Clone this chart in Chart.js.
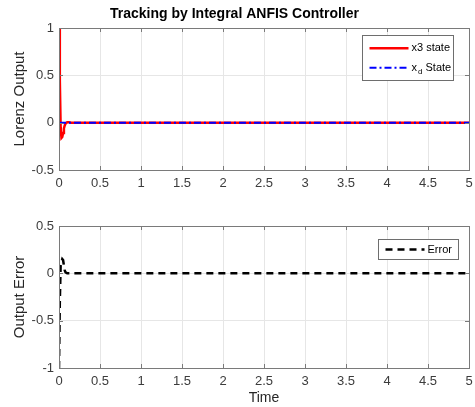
<!DOCTYPE html>
<html lang="en">
<head>
<meta charset="UTF-8" />
<title>Tracking by Integral ANFIS Controller</title>
<script src="https://cdn.jsdelivr.net/npm/chart.js"></script>
<style>
  body { margin: 0; background: #fff; }
  #wrap { position: relative; width: 475px; height: 407px; }
  canvas { position: absolute; left: 0; }
</style>
</head>
<body>
<div id="wrap">
  <canvas id="stateChart" width="475" height="200" style="top:0"></canvas>
  <canvas id="errorChart" width="475" height="207" style="top:200px"></canvas>
</div>

<script>
// data
const time        = [0, 0.01, 0.02, 0.03, 0.04, 0.05, 0.06, 0.07, 0.08, 0.1, 0.12, 0.15, 0.2, 0.5, 1, 1.5, 2, 2.5, 3, 3.5, 4, 4.5, 5];
const x3State     = [1, 0.45, -0.05, -0.16, -0.15, -0.11, -0.06, -0.03, -0.01, 0.005, 0.005, 0, 0, 0, 0, 0, 0, 0, 0, 0, 0, 0, 0];
const xdState     = [0, 0, 0, 0, 0, 0, 0, 0, 0, 0, 0, 0, 0, 0, 0, 0, 0, 0, 0, 0, 0, 0, 0];
const outputError = [-1, -0.3, 0.08, 0.12, 0.15, 0.14, 0.08, 0.03, 0.01, 0, 0, 0, 0, 0, 0, 0, 0, 0, 0, 0, 0, 0, 0];

const timeTicks  = [0, 0.5, 1, 1.5, 2, 2.5, 3, 3.5, 4, 4.5, 5];
const stateTicks = [-0.5, 0, 0.5, 1];
const errorTicks = [-1, -0.5, 0, 0.5];

const FONT = "'Liberation Sans', Arial, sans-serif";
const pts = ys => time.map((t, i) => ({ x: t, y: ys[i] }));

// box around the axes, inward tick marks, legend inside the plot
const matlabBox = {
  id: "matlabBox",
  afterDatasetsDraw(chart, args, opts) {
    const ctx = chart.ctx;
    const a = chart.chartArea;
    const xs = chart.scales.x, ys = chart.scales.y;
    ctx.save();
    ctx.strokeStyle = "#7a7a7a";
    ctx.lineWidth = 1;
    ctx.beginPath();
    xs.ticks.forEach(t => {
      const px = Math.round(xs.getPixelForValue(t.value)) + 0.5;
      ctx.moveTo(px, a.bottom); ctx.lineTo(px, a.bottom - 4);
      ctx.moveTo(px, a.top); ctx.lineTo(px, a.top + 4);
    });
    ys.ticks.forEach(t => {
      const py = Math.round(ys.getPixelForValue(t.value)) + 0.5;
      ctx.moveTo(a.left, py); ctx.lineTo(a.left + 4, py);
      ctx.moveTo(a.right, py); ctx.lineTo(a.right - 4, py);
    });
    ctx.stroke();
    ctx.strokeRect(Math.round(a.left) + 0.5, Math.round(a.top) + 0.5,
                   Math.round(a.right - a.left), Math.round(a.bottom - a.top));

    // legend
    const lx = Math.round(a.right - opts.right - opts.width) + 0.5;
    const ly = Math.round(a.top + opts.top) + 0.5;
    ctx.fillStyle = "#fff";
    ctx.fillRect(lx, ly, opts.width, opts.height);
    ctx.strokeStyle = "#6e6e6e";
    ctx.strokeRect(lx, ly, opts.width, opts.height);
    const sets = chart.data.datasets;
    const rowH = (opts.height - 6) / sets.length;
    sets.forEach((ds, i) => {
      const y = ly + 3 + rowH * (i + 0.5);
      ctx.beginPath();
      ctx.strokeStyle = ds.borderColor;
      ctx.lineWidth = ds.borderWidth;
      ctx.setLineDash(ds.borderDash || []);
      ctx.moveTo(lx + opts.lineStart, y);
      ctx.lineTo(lx + opts.lineStart + opts.lineLen, y);
      ctx.stroke();
      ctx.setLineDash([]);
      ctx.fillStyle = "#000";
      ctx.textBaseline = "middle";
      ctx.font = "11px " + FONT;
      let tx = lx + opts.lineStart + opts.lineLen + 3;
      const parts = ds.label.split("_");
      ctx.fillText(parts[0], tx, y);
      tx += ctx.measureText(parts[0]).width;
      if (parts[1]) {
        ctx.font = "8px " + FONT;
        ctx.fillText(parts[1][0], tx + 1, y + 4);
        tx += ctx.measureText(parts[1][0]).width + 1;
        ctx.font = "11px " + FONT;
        ctx.fillText(parts[1].slice(1), tx, y);
      }
    });
    ctx.restore();
  }
};

function xAxis(height, title) {
  return {
    type: "linear", min: 0, max: 5,
    afterBuildTicks: s => { s.ticks = timeTicks.map(v => ({ value: v })); },
    afterFit: s => { s.height = height; s.paddingLeft = 0; s.paddingRight = 0; },
    grid: { color: "#e6e6e6", drawTicks: false },
    border: { display: false },
    ticks: { font: { family: FONT, size: 13 }, color: "#3c3c3c", padding: 6, maxRotation: 0,
             callback: v => String(v) },
    title: { display: !!title, text: title, font: { family: FONT, size: 14 }, color: "#262626", padding: { top: 0, bottom: 0 } }
  };
}

function yAxis(tickList, title) {
  return {
    type: "linear", min: tickList[0], max: tickList[tickList.length - 1],
    afterBuildTicks: s => { s.ticks = tickList.map(v => ({ value: v })); },
    afterFit: s => { s.width = 59; s.paddingTop = 0; s.paddingBottom = 0; },
    grid: { color: "#e6e6e6", drawTicks: false },
    border: { display: false },
    ticks: { font: { family: FONT, size: 13 }, color: "#3c3c3c", padding: 5, callback: v => String(v) },
    title: { display: true, text: title, font: { family: FONT, size: 15 }, color: "#262626", padding: { top: 11, bottom: 0 } }
  };
}

new Chart(document.getElementById("stateChart"), {
  type: "line",
  data: {
    datasets: [
      { label: "x3 state", data: pts(x3State), borderColor: "#ff0000", borderWidth: 2.5, order: 1 },
      { label: "x_d State", data: pts(xdState), borderColor: "#0000ff", borderWidth: 2, borderDash: [7, 3, 2, 3], order: 0 }
    ]
  },
  options: {
    responsive: false, animation: false,
    elements: { point: { radius: 0 }, line: { tension: 0 } },
    layout: { padding: { top: 0, right: 6, bottom: 0, left: 0 } },
    scales: { x: xAxis(30), y: yAxis(stateTicks, "Lorenz Output") },
    plugins: {
      legend: { display: false }, tooltip: { enabled: false },
      title: { display: true, text: "Tracking by Integral ANFIS Controller", color: "#000",
               font: { family: FONT, size: 14, weight: "bold" }, padding: { top: 6, bottom: 5.2 } },
      matlabBox: { right: 16, top: 7, width: 91, height: 45, lineStart: 7, lineLen: 39 }
    }
  },
  plugins: [matlabBox]
});

new Chart(document.getElementById("errorChart"), {
  type: "line",
  data: {
    datasets: [
      { label: "Error", data: pts(outputError), borderColor: "#000", borderWidth: 2.5, borderDash: [7, 5] }
    ]
  },
  options: {
    responsive: false, animation: false,
    elements: { point: { radius: 0 }, line: { tension: 0 } },
    layout: { padding: { top: 26, right: 6, bottom: 0, left: 0 } },
    scales: { x: xAxis(39, "Time"), y: yAxis(errorTicks, "Output Error") },
    plugins: {
      legend: { display: false }, tooltip: { enabled: false },
      matlabBox: { right: 11, top: 13, width: 80, height: 20, lineStart: 7, lineLen: 39 }
    }
  },
  plugins: [matlabBox]
});
</script>
</body>
</html>
